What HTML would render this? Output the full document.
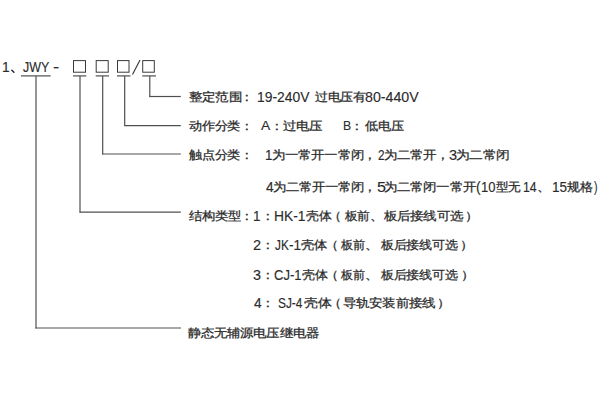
<!DOCTYPE html>
<html><head><meta charset="utf-8"><style>
html,body{margin:0;padding:0;background:#fff;width:600px;height:400px;overflow:hidden}
body{position:relative;font-family:"Liberation Sans",sans-serif;font-size:13px;color:#2b2b2b}
span{position:absolute;-webkit-text-stroke:0.3px #2b2b2b;white-space:nowrap;line-height:20px;transform-origin:0 10px}
span.l{-webkit-text-stroke-width:0.12px}
span.c{letter-spacing:-0.8px}
svg{position:absolute;left:0;top:0}
</style></head><body>
<svg width="600" height="400" viewBox="0 0 600 400">
<line x1="21" y1="75.9" x2="50.6" y2="75.9" stroke="#505050" stroke-width="1.2"/><line x1="36" y1="75.9" x2="36" y2="328.5" stroke="#505050" stroke-width="1.2"/><line x1="35.5" y1="328" x2="181" y2="328" stroke="#505050" stroke-width="1.2"/><line x1="73" y1="75.9" x2="86.3" y2="75.9" stroke="#505050" stroke-width="1.2"/><line x1="80" y1="75.9" x2="80" y2="212.6" stroke="#505050" stroke-width="1.2"/><line x1="79.5" y1="212.1" x2="180.8" y2="212.1" stroke="#505050" stroke-width="1.2"/><line x1="95.7" y1="75.9" x2="109" y2="75.9" stroke="#505050" stroke-width="1.2"/><line x1="102.7" y1="75.9" x2="102.7" y2="154.5" stroke="#505050" stroke-width="1.2"/><line x1="102.2" y1="154" x2="180.8" y2="154" stroke="#505050" stroke-width="1.2"/><line x1="117" y1="75.9" x2="130.5" y2="75.9" stroke="#505050" stroke-width="1.2"/><line x1="124.7" y1="75.9" x2="124.7" y2="126.1" stroke="#505050" stroke-width="1.2"/><line x1="124.2" y1="125.6" x2="180.8" y2="125.6" stroke="#505050" stroke-width="1.2"/><line x1="142.2" y1="75.9" x2="156" y2="75.9" stroke="#505050" stroke-width="1.2"/><line x1="149.8" y1="75.9" x2="149.8" y2="97" stroke="#505050" stroke-width="1.2"/><line x1="149.3" y1="96.5" x2="180.8" y2="96.5" stroke="#505050" stroke-width="1.2"/>
<rect x="73.5" y="60.6" width="12" height="11.6" fill="none" stroke="#3a3a3a" stroke-width="1.0"/><rect x="96.2" y="60.6" width="12" height="11.6" fill="none" stroke="#3a3a3a" stroke-width="1.0"/><rect x="117.5" y="60.6" width="11.5" height="11.6" fill="none" stroke="#3a3a3a" stroke-width="1.0"/><rect x="142.7" y="60.6" width="11.6" height="11.6" fill="none" stroke="#3a3a3a" stroke-width="1.0"/>
<path d="M11.8 70.2 L13.9 72.3" stroke="#2b2b2b" stroke-width="1.5" stroke-linecap="round"/><line x1="140" y1="60" x2="132.5" y2="74.5" stroke="#333" stroke-width="1.1"/>
</svg>
<span id="s0" class="l" style="left:2.42px;top:57px;font-size:14px;transform:scale(0.9848,1.0)">1</span>
<span id="s1" class="l" style="left:23.14px;top:57px;font-size:14px;transform:scale(0.8895,1.0)">JWY</span>
<span id="s2" class="l" style="left:53.28px;top:57px;font-size:14px;transform:scale(1.3300,1.0)">-</span>
<span id="s3" class="c" style="left:188.60px;top:87px;font-size:13.8px;transform:scale(0.9984,0.885)">整定范围</span>
<span id="s4" class="c" style="left:240.00px;top:87px;font-size:13.8px;transform:scale(1.0000,0.885)">：</span>
<span id="s5" class="l" style="left:257.41px;top:87px;font-size:14px;transform:scale(0.9905,1.0)">19-240V</span>
<span id="s6" class="c" style="left:314.60px;top:87px;font-size:13.8px;transform:scale(0.9565,0.885)">过电压有</span>
<span id="s7" class="l" style="left:365.10px;top:87px;font-size:14px;transform:scale(1.0147,1.0)">80-440V</span>
<span id="s8" class="c" style="left:188.87px;top:116px;font-size:13.8px;transform:scale(0.9709,0.885)">动作分类</span>
<span id="s9" class="c" style="left:240.00px;top:116px;font-size:13.8px;transform:scale(1.0000,0.885)">：</span>
<span id="s10" class="l" style="left:261.12px;top:116px;font-size:13.5px;transform:scale(1.0216,1.0)">A</span>
<span id="s11" class="c" style="left:270.28px;top:116px;font-size:13.8px;transform:scale(1.0000,0.885)">：</span>
<span id="s12" class="c" style="left:283.12px;top:116px;font-size:13.8px;transform:scale(0.9921,0.885)">过电压</span>
<span id="s13" class="l" style="left:343.09px;top:116px;font-size:13.5px;transform:scale(0.9071,1.0)">B</span>
<span id="s14" class="c" style="left:350.28px;top:116px;font-size:13.8px;transform:scale(1.0000,0.885)">：</span>
<span id="s15" class="c" style="left:364.87px;top:116px;font-size:13.8px;transform:scale(0.9700,0.885)">低电压</span>
<span id="s16" class="c" style="left:188.87px;top:145px;font-size:13.8px;transform:scale(0.9709,0.885)">触点分类</span>
<span id="s17" class="c" style="left:240.00px;top:145px;font-size:13.8px;transform:scale(1.0000,0.885)">：</span>
<span id="s18" class="l" style="left:265.17px;top:145px;font-size:14px;transform:scale(0.9562,1.0)">1</span>
<span id="s19" class="c" style="left:271.89px;top:145px;font-size:13.8px;transform:scale(0.9925,0.885)">为一常开一常闭</span>
<span id="s20" class="c" style="left:363.00px;top:145px;font-size:13.8px;transform:scale(1.0000,0.885)">，</span>
<span id="s21" class="l" style="left:377.58px;top:145px;font-size:14px;transform:scale(0.8409,1.0)">2</span>
<span id="s22" class="c" style="left:383.89px;top:145px;font-size:13.8px;transform:scale(0.9934,0.885)">为二常开</span>
<span id="s23" class="c" style="left:435.88px;top:145px;font-size:13.8px;transform:scale(1.0000,0.885)">，</span>
<span id="s24" class="l" style="left:449.08px;top:145px;font-size:14px;transform:scale(1.0367,1.0)">3</span>
<span id="s25" class="c" style="left:456.11px;top:145px;font-size:13.8px;transform:scale(1.0117,0.885)">为二常闭</span>
<span id="s26" class="l" style="left:265.88px;top:177px;font-size:14px;transform:scale(0.9826,1.0)">4</span>
<span id="s27" class="c" style="left:272.89px;top:177px;font-size:13.8px;transform:scale(0.9892,0.885)">为二常开一常闭</span>
<span id="s28" class="c" style="left:363.00px;top:177px;font-size:13.8px;transform:scale(1.0000,0.885)">，</span>
<span id="s29" class="l" style="left:376.52px;top:177px;font-size:14px;transform:scale(1.1534,1.0)">5</span>
<span id="s30" class="c" style="left:384.13px;top:177px;font-size:13.8px;transform:scale(0.9927,0.885)">为二常闭一常开</span>
<span id="s31" class="l" style="left:476.00px;top:177px;font-size:14px">(</span>
<span id="s32" class="l" style="left:481.07px;top:177px;font-size:14px;transform:scale(0.9286,1.0)">10</span>
<span id="s33" class="c" style="left:496.00px;top:177px;font-size:13.8px;transform:scale(0.9259,0.885)">型无</span>
<span id="s34" class="l" style="left:522.54px;top:177px;font-size:14px;transform:scale(0.8760,1.0)">14</span>
<span id="s35" class="c" style="left:537.00px;top:177px;font-size:13.8px;transform:scale(1.0000,0.885)">、</span>
<span id="s36" class="l" style="left:552.03px;top:177px;font-size:14px;transform:scale(0.9659,1.0)">15</span>
<span id="s37" class="c" style="left:567.00px;top:177px;font-size:13.8px;transform:scale(0.9584,0.885)">规格</span>
<span id="s38" class="l" style="left:593.58px;top:177px;font-size:14px;transform:scale(0.7500,1.0)">)</span>
<span id="s39" class="c" style="left:188.88px;top:206px;font-size:13.8px;transform:scale(0.9823,0.885)">结构类型</span>
<span id="s40" class="c" style="left:240.28px;top:206px;font-size:13.8px;transform:scale(1.0000,0.885)">：</span>
<span id="s41" class="l" style="left:253.45px;top:206px;font-size:14px;transform:scale(0.9582,1.0)">1</span>
<span id="s42" class="c" style="left:260.56px;top:206px;font-size:13.8px;transform:scale(1.0000,0.885)">：</span>
<span id="s43" class="l" style="left:274.13px;top:206px;font-size:14px;transform:scale(0.9876,1.0)">HK-1</span>
<span id="s44" class="c" style="left:306.00px;top:206px;font-size:13.8px;transform:scale(0.9485,0.885)">壳体</span>
<span id="s45" class="c" style="left:328.12px;top:206px;font-size:13.8px;transform:scale(1.0000,0.885)">（</span>
<span id="s46" class="c" style="left:344.59px;top:206px;font-size:13.8px;transform:scale(0.9365,0.885)">板前</span>
<span id="s47" class="c" style="left:370.00px;top:206px;font-size:13.8px;transform:scale(1.0000,0.885)">、</span>
<span id="s48" class="c" style="left:384.00px;top:206px;font-size:13.8px;transform:scale(0.9974,0.885)">板后接线可选</span>
<span id="s49" class="c" style="left:464.60px;top:206px;font-size:13.8px;transform:scale(1.0000,0.885)">）</span>
<span id="s50" class="l" style="left:253.08px;top:235px;font-size:14px;transform:scale(1.0367,1.0)">2</span>
<span id="s51" class="c" style="left:261.00px;top:235px;font-size:13.8px;transform:scale(1.0000,0.885)">：</span>
<span id="s52" class="l" style="left:274.58px;top:235px;font-size:14px;transform:scale(0.8451,1.0)">JK</span>
<span id="s53" class="l" style="left:288.72px;top:235px;font-size:14px;transform:scale(0.9719,1.0)">-1</span>
<span id="s54" class="c" style="left:301.13px;top:235px;font-size:13.8px;transform:scale(0.9712,0.885)">壳体</span>
<span id="s55" class="c" style="left:324.60px;top:235px;font-size:13.8px;transform:scale(1.0000,0.885)">（</span>
<span id="s56" class="c" style="left:341.27px;top:235px;font-size:13.8px;transform:scale(0.8972,0.885)">板前</span>
<span id="s57" class="c" style="left:365.44px;top:235px;font-size:13.8px;transform:scale(1.0000,0.885)">、</span>
<span id="s58" class="c" style="left:381.00px;top:235px;font-size:13.8px;transform:scale(0.9625,0.885)">板后接线可选</span>
<span id="s59" class="c" style="left:460.28px;top:235px;font-size:13.8px;transform:scale(1.0000,0.885)">）</span>
<span id="s60" class="l" style="left:253.37px;top:265px;font-size:14px;transform:scale(1.0258,1.0)">3</span>
<span id="s61" class="c" style="left:261.00px;top:265px;font-size:13.8px;transform:scale(1.0000,0.885)">：</span>
<span id="s62" class="l" style="left:274.20px;top:265px;font-size:14px;transform:scale(0.9286,1.0)">CJ-1</span>
<span id="s63" class="c" style="left:301.72px;top:265px;font-size:13.8px;transform:scale(0.9613,0.885)">壳体</span>
<span id="s64" class="c" style="left:324.88px;top:265px;font-size:13.8px;transform:scale(1.0000,0.885)">（</span>
<span id="s65" class="c" style="left:341.14px;top:265px;font-size:13.8px;transform:scale(0.8844,0.885)">板前</span>
<span id="s66" class="c" style="left:365.44px;top:265px;font-size:13.8px;transform:scale(1.0000,0.885)">、</span>
<span id="s67" class="c" style="left:381.00px;top:265px;font-size:13.8px;transform:scale(0.9625,0.885)">板后接线可选</span>
<span id="s68" class="c" style="left:460.56px;top:265px;font-size:13.8px;transform:scale(1.0000,0.885)">）</span>
<span id="s69" class="l" style="left:253.88px;top:293px;font-size:14px;transform:scale(0.9826,1.0)">4</span>
<span id="s70" class="c" style="left:261.28px;top:293px;font-size:13.8px;transform:scale(1.0000,0.885)">：</span>
<span id="s71" class="l" style="left:278.30px;top:293px;font-size:14px;transform:scale(0.8491,1.0)">SJ-4</span>
<span id="s72" class="c" style="left:303.72px;top:293px;font-size:13.8px;transform:scale(1.0264,0.885)">壳体</span>
<span id="s73" class="c" style="left:327.60px;top:293px;font-size:13.8px;transform:scale(1.0000,0.885)">（</span>
<span id="s74" class="c" style="left:343.12px;top:293px;font-size:13.8px;transform:scale(0.9963,0.885)">导轨安装前接线</span>
<span id="s75" class="c" style="left:436.56px;top:293px;font-size:13.8px;transform:scale(1.0000,0.885)">）</span>
<span id="s76" class="c" style="left:188.12px;top:323px;font-size:13.8px;transform:scale(0.9906,0.885)">静态无辅源电压继电器</span>
</body></html>
